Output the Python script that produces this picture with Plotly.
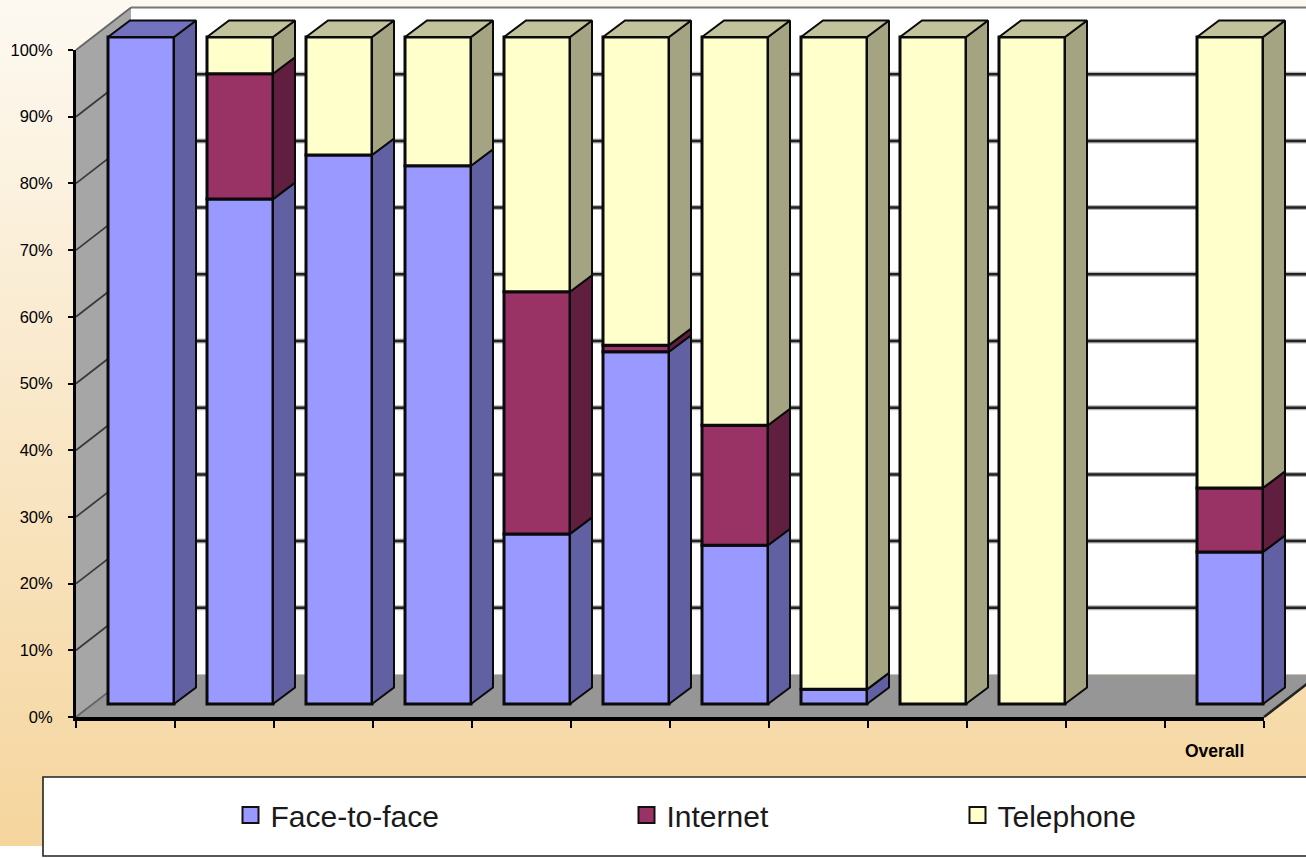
import plotly.graph_objects as go

# Survey mode shares per group, percent of respondents
category_labels = ["", "", "", "", "", "", "", "", "", "", "", "Overall"]
face_to_face = [100.0, 75.7, 82.3, 80.7, 25.5, 52.8, 23.8, 2.2, 0.0, 0.0, None, 22.8]
internet = [0.0, 18.8, 0.0, 0.0, 36.3, 1.0, 18.0, 0.0, 0.0, 0.0, None, 9.6]
telephone = [0.0, 5.5, 17.7, 19.3, 38.2, 46.2, 58.2, 97.8, 100.0, 100.0, None, 67.6]
percent_ticks = [0, 10, 20, 30, 40, 50, 60, 70, 80, 90, 100]

series = [
    ("Face-to-face", face_to_face, "#9999FF", "#6060A2", "#7272BE"),
    ("Internet", internet, "#993366", "#601F3F", "#732650"),
    ("Telephone", telephone, "#FFFFCC", "#A4A482", "#C2C29C"),
]

WIDTH, HEIGHT = 1306, 858
LEFT, RIGHT = 76, 1264          # front plane of the category axis
BOTTOM, TOP = 717, 50           # front plane of the value axis
PX_PER_CAT = (RIGHT - LEFT) / len(category_labels)
PX_PER_PCT = (BOTTOM - TOP) / 100

# Oblique projection offsets, in pixels
BAR_X, BAR_Y = 15.5, 13         # front face of a bar relative to the axis plane
BAR_DX, BAR_DY = 22, 16.5       # depth of a bar
WALL_DX, WALL_DY = 55, 42.5     # depth of the floor and back wall
BAR_W = 66


def px(x_pixels):
    return x_pixels / WIDTH


def py(y_pixels):
    return 1 - y_pixels / HEIGHT


def pct_y(p, depth=0):
    return py(BOTTOM - p * PX_PER_PCT - depth)


def hex_mix(a, b, t):
    ca = [int(a[i:i + 2], 16) for i in (1, 3, 5)]
    cb = [int(b[i:i + 2], 16) for i in (1, 3, 5)]
    return "#%02X%02X%02X" % tuple(round(u + (v - u) * t) for u, v in zip(ca, cb))


def poly(points):
    return "M" + " L".join(f"{x:.5f},{y:.5f}" for x, y in points) + " Z"


shapes = []

# Page backdrop, a soft vertical wash from cream to tan
STRIP = 8
GRAD_END = 846
for top in range(0, GRAD_END, STRIP):
    colour = hex_mix("#FDF9F1", "#F5D59D", top / GRAD_END)
    shapes.append(dict(type="rect", xref="paper", yref="paper", layer="below",
                       x0=0, x1=1, y0=py(top), y1=py(min(top + STRIP + 1, GRAD_END)),
                       fillcolor=colour, line_width=0))

# Back wall
shapes.append(dict(type="rect", xref="paper", yref="paper", layer="below",
                   x0=px(LEFT + WALL_DX), x1=1, y0=pct_y(0, WALL_DY), y1=pct_y(100, WALL_DY),
                   fillcolor="#FFFFFF", line_width=0))
shapes.append(dict(type="line", xref="paper", yref="paper", layer="below",
                   x0=px(LEFT + WALL_DX), x1=1, y0=pct_y(100, WALL_DY), y1=pct_y(100, WALL_DY),
                   line=dict(color="#777777", width=2)))

# Side wall and floor
shapes.append(dict(type="path", xref="paper", yref="paper", layer="below", line_width=0,
                   fillcolor="#A6A6A6",
                   path=poly([(px(LEFT), pct_y(0)), (px(LEFT + WALL_DX), pct_y(0, WALL_DY)),
                              (px(LEFT + WALL_DX), pct_y(100, WALL_DY)), (px(LEFT), pct_y(100))])))
shapes.append(dict(type="path", xref="paper", yref="paper", layer="below", line_width=0,
                   fillcolor="#969696",
                   path=poly([(px(LEFT), pct_y(0)), (px(LEFT + WALL_DX), pct_y(0, WALL_DY)),
                              (px(RIGHT + WALL_DX), pct_y(0, WALL_DY)), (px(RIGHT), pct_y(0))])))

# Gridlines across the back wall and down the side wall
for p in percent_ticks:
    y_back = pct_y(p, WALL_DY)
    if 0 < p < 100:
        shapes.append(dict(type="line", xref="paper", yref="paper", layer="below",
                           x0=px(LEFT + WALL_DX), x1=1, y0=y_back, y1=y_back,
                           line=dict(color="#B4B4B4", width=5)))
        shapes.append(dict(type="line", xref="paper", yref="paper", layer="below",
                           x0=px(LEFT + WALL_DX), x1=1, y0=y_back, y1=y_back,
                           line=dict(color="#222222", width=2.5)))
    shapes.append(dict(type="line", xref="paper", yref="paper", layer="below",
                       x0=px(LEFT), x1=px(LEFT + WALL_DX), y0=pct_y(p), y1=y_back,
                       line=dict(color="#3A3A3A" if 0 < p < 100 else "#666666", width=1.8)))

# Front-right edge of the floor
shapes.append(dict(type="line", xref="paper", yref="paper", layer="below",
                   x0=px(RIGHT), x1=px(RIGHT + WALL_DX), y0=pct_y(0), y1=pct_y(0, WALL_DY),
                   line=dict(color="#222222", width=2.5)))

# Legend panel
shapes.append(dict(type="rect", xref="paper", yref="paper", layer="below",
                   x0=px(43), x1=px(1320), y0=py(856), y1=py(777),
                   fillcolor="#FFFFFF", line=dict(color="#222222", width=1.6)))

fig = go.Figure()

cat_units_x = BAR_X / PX_PER_CAT
pct_units_y = BAR_Y / PX_PER_PCT
depth_x = BAR_DX / PX_PER_CAT
depth_y = BAR_DY / PX_PER_PCT
half_w = BAR_W / PX_PER_CAT / 2

running = [0.0] * len(category_labels)
top_series = [None] * len(category_labels)
side_faces = []

# Marks live on a full-page pair of axes, aligned with the visible front-plane axes,
# so the projected depth faces can extend past the axis frame.
for name, values, front, side, lid in series:
    xs, ys, bases = [], [], []
    side_x, side_y = [], []
    for k, v in enumerate(values):
        if not v:
            continue
        x_mid = k + 0.5 + cat_units_x
        y0 = running[k] + pct_units_y
        y1 = y0 + v
        xs.append(x_mid)
        ys.append(v)
        bases.append(y0)
        x_r = x_mid + half_w
        side_x += [x_r, x_r + depth_x, x_r + depth_x, x_r, x_r, None]
        side_y += [y0, y0 + depth_y, y1 + depth_y, y1, y0, None]
        running[k] += v
        top_series[k] = (lid, x_mid, y1)
    fig.add_trace(go.Bar(x=xs, y=ys, base=bases, width=BAR_W / PX_PER_CAT,
                         marker=dict(color=front, line=dict(color="#0A0A0A", width=3)),
                         showlegend=False, hoverinfo="skip"))
    side_faces.append((side_x, side_y, side))

for side_x, side_y, side in side_faces:
    fig.add_trace(go.Scatter(x=side_x, y=side_y, mode="lines", fill="toself", fillcolor=side,
                             line=dict(color="#0A0A0A", width=2),
                             showlegend=False, hoverinfo="skip"))

# Lids of the stacks
for lid_colour in {s[4] for s in series}:
    lid_x, lid_y = [], []
    for entry in top_series:
        if entry and entry[0] == lid_colour:
            _, x_mid, y1 = entry
            lid_x += [x_mid - half_w, x_mid + half_w, x_mid + half_w + depth_x,
                      x_mid - half_w + depth_x, x_mid - half_w, None]
            lid_y += [y1, y1, y1 + depth_y, y1 + depth_y, y1, None]
    if lid_x:
        fig.add_trace(go.Scatter(x=lid_x, y=lid_y, mode="lines", fill="toself", fillcolor=lid_colour,
                                 line=dict(color="#0A0A0A", width=2),
                                 showlegend=False, hoverinfo="skip"))

# One legend per series so each entry sits at its own place in the panel
legend_names = ["legend", "legend2", "legend3"]
legend_left = [230.5, 626.5, 957.5]
legend_layout = {}
for (name, _, front, _, _), key, left in zip(series, legend_names, legend_left):
    fig.add_trace(go.Scatter(x=[None], y=[None], mode="markers", name=name, legend=key,
                             xaxis="x2", yaxis="y2",
                             marker=dict(symbol="square", size=16, color=front,
                                         line=dict(color="#111111", width=2))))
    legend_layout[key] = dict(x=px(left), y=py(815), xanchor="left", yanchor="middle",
                              bgcolor="rgba(0,0,0,0)", borderwidth=0,
                              font=dict(family="Liberation Sans", size=30, color="#1A1A1A"))

fig.update_layout(
    width=WIDTH, height=HEIGHT, autosize=False,
    margin=dict(l=0, r=0, t=0, b=0, autoexpand=False),
    paper_bgcolor="#FFFFFF", plot_bgcolor="rgba(0,0,0,0)",
    barmode="overlay", shapes=shapes,
    font=dict(family="Liberation Sans", color="#000000"),
    xaxis=dict(domain=[0, 1], visible=False, fixedrange=True,
               range=[-LEFT / PX_PER_CAT, (WIDTH - LEFT) / PX_PER_CAT]),
    yaxis=dict(domain=[0, 1], visible=False, fixedrange=True,
               range=[-(HEIGHT - BOTTOM) / PX_PER_PCT, BOTTOM / PX_PER_PCT]),
    xaxis2=dict(domain=[px(LEFT), px(RIGHT)], range=[0, len(category_labels)], anchor="y2",
                tickmode="array", tickvals=list(range(len(category_labels) + 1)),
                showticklabels=False, showgrid=False, zeroline=False,
                showline=True, linecolor="#000000", linewidth=4,
                ticks="outside", ticklen=7, tickwidth=2, tickcolor="#000000"),
    yaxis2=dict(domain=[py(BOTTOM), py(TOP)], range=[0, 100], anchor="x2",
                tickmode="array", tickvals=percent_ticks, ticktext=[f"{p}%" for p in percent_ticks],
                tickfont=dict(family="Liberation Sans", size=16.5, color="#000000"),
                showgrid=False, zeroline=False, showline=True, linecolor="#000000", linewidth=3,
                ticks="outside", ticklen=5, tickwidth=2, tickcolor="#000000",
                ticklabelstandoff=12),
    annotations=[dict(x=k + 0.5, xref="x2", y=py(751), yref="paper", text=f"<b>{label}</b>",
                      showarrow=False, xanchor="center", yanchor="middle",
                      font=dict(family="Liberation Sans", size=17.5, color="#000000"))
                 for k, label in enumerate(category_labels) if label],
    **legend_layout,
)

fig.write_html("out.html", config={"displayModeBar": False})
